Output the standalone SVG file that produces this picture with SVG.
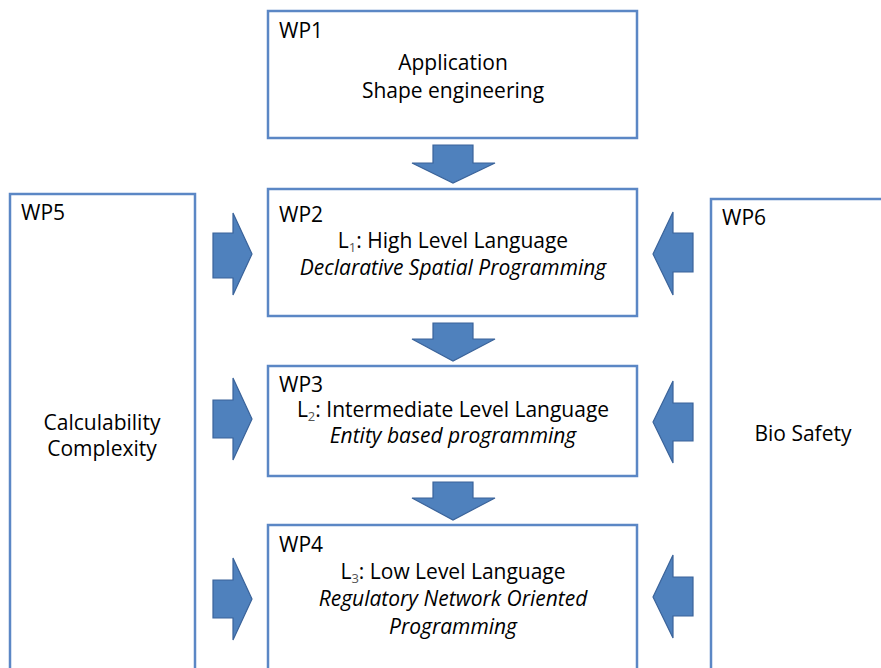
<svg xmlns="http://www.w3.org/2000/svg" width="881" height="668" viewBox="0 0 881 668">
<style>
.box{fill:#fff;stroke:#5b87c5;stroke-width:2.5}
.arr{fill:#4f81bd;stroke:#3a639a;stroke-width:1.2}
text{font-family:"Open Sans","Liberation Sans",sans-serif;font-size:21px;fill:#000}
.c{text-anchor:middle}
.i{font-style:italic}
.sub{font-size:13px;fill:#555;baseline-shift:-4px}
</style>
<rect width="881" height="668" fill="#fff"/>
<g id="connectors">
<polygon class="arr" points="433,145 473,145 473,163 495,163 453,183 412,163 433,163"/>
<polygon class="arr" points="433,323 473,323 473,339 495,339 453,361 412,339 433,339"/>
<polygon class="arr" points="433,482 473,482 473,498 495,498 453,520 412,498 433,498"/>
<polygon class="arr" points="213,233 233,233 233,213 252,254 233,295 233,278 213,278"/>
<polygon class="arr" points="213,400 233,400 233,378 252,419 233,460 233,438 213,438"/>
<polygon class="arr" points="213,580 233,580 233,558 252,599 233,640 233,618 213,618"/>
<polygon class="arr" points="693,233 673,233 673,212 653,254 673,295 673,272 693,272"/>
<polygon class="arr" points="693,403 673,403 673,381 653,422 673,463 673,441 693,441"/>
<polygon class="arr" points="693,577 673,577 673,555 653,597 673,638 673,616 693,616"/>
</g>
<g id="wp1">
<rect class="box" x="268" y="11" width="369" height="127"/>
<text x="279" y="38">WP1</text>
<text class="c" x="453" y="70">Application</text>
<text class="c" x="453" y="98">Shape engineering</text>
</g>
<g id="wp2">
<rect class="box" x="268" y="189" width="369" height="127"/>
<text x="279" y="222">WP2</text>
<text class="c" x="453" y="248">L<tspan class="sub">1</tspan>: High Level Language</text>
<text class="c i" x="453" y="275">Declarative Spatial Programming</text>
</g>
<g id="wp3">
<rect class="box" x="268" y="366" width="369" height="110"/>
<text x="279" y="392">WP3</text>
<text class="c" x="453" y="417">L<tspan class="sub">2</tspan>: Intermediate Level Language</text>
<text class="c i" x="453" y="443">Entity based programming</text>
</g>
<g id="wp4">
<rect class="box" x="268" y="525" width="369" height="160"/>
<text x="279" y="552">WP4</text>
<text class="c" x="453" y="579">L<tspan class="sub">3</tspan>: Low Level Language</text>
<text class="c i" x="453" y="606">Regulatory Network Oriented</text>
<text class="c i" x="453" y="634">Programming</text>
</g>
<g id="wp5">
<rect class="box" x="10" y="194" width="185" height="490"/>
<text x="21" y="220">WP5</text>
<text class="c" x="102" y="430">Calculability</text>
<text class="c" x="102" y="456">Complexity</text>
</g>
<g id="wp6">
<rect class="box" x="711" y="199" width="190" height="490"/>
<text x="722" y="225">WP6</text>
<text class="c" x="803" y="441">Bio Safety</text>
</g>
</svg>
